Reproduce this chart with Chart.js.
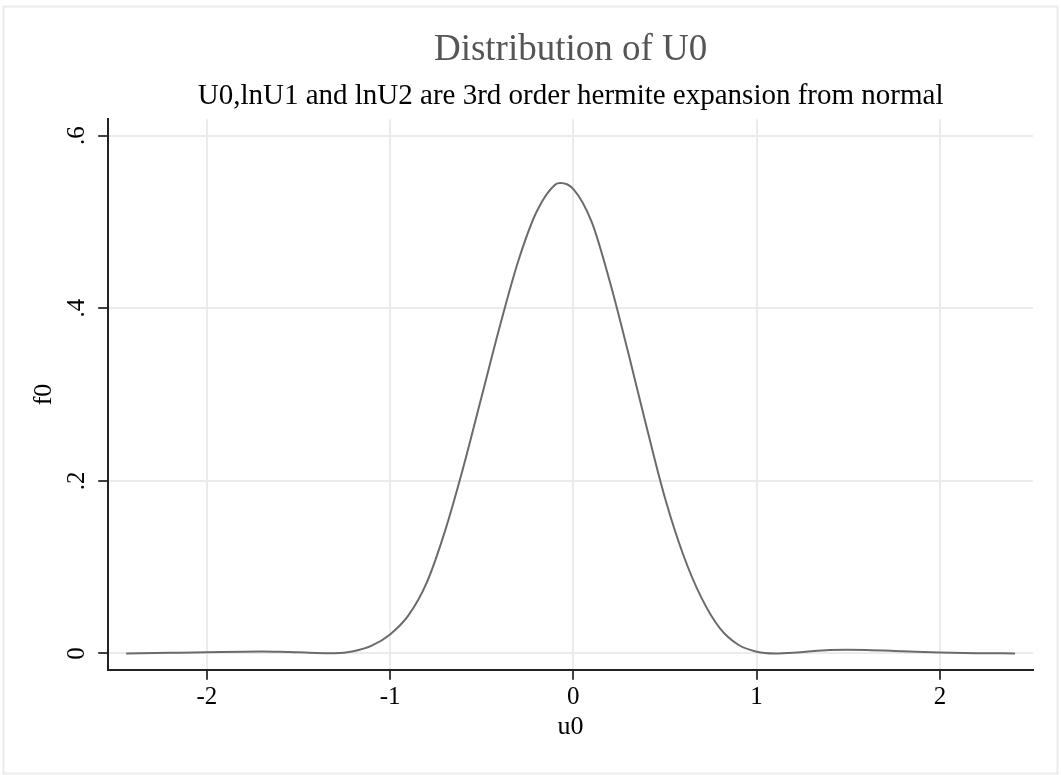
<!DOCTYPE html>
<html>
<head>
<meta charset="utf-8">
<script src="https://cdn.jsdelivr.net/npm/chart.js@4"></script>
<style>
  html, body { margin: 0; padding: 0; background: #fff; }
  #wrap { width: 1061px; height: 775px; }
</style>
</head>
<body>
<div id="wrap"><canvas id="c"></canvas></div>
<script>
// values
const u0 = [-2.44, -2.2, -2.0, -1.8, -1.7, -1.6, -1.5, -1.4, -1.3, -1.2, -1.1, -1.0, -0.9, -0.8, -0.7,
  -0.6, -0.5, -0.4, -0.3, -0.2, -0.1, -0.07, 0.0, 0.1, 0.2, 0.3, 0.4, 0.5, 0.6, 0.7, 0.8, 0.9, 1.0,
  1.1, 1.2, 1.3, 1.4, 1.49, 1.6, 1.8, 2.0, 2.2, 2.41];
const f0 = [0.0, 0.0007, 0.0013, 0.0020, 0.0021, 0.0018, 0.0012, 0.0005, 0.0003, 0.0025, 0.009, 0.022, 0.044, 0.082, 0.142,
  0.216, 0.298, 0.380, 0.455, 0.512, 0.543, 0.545, 0.538, 0.500, 0.430, 0.348, 0.262, 0.180, 0.114, 0.064, 0.029, 0.010, 0.002,
  0.0, 0.0008, 0.0025, 0.0038, 0.0043, 0.0040, 0.0025, 0.0010, 0.0003, 0.0];
const xTicks = [-2, -1, 0, 1, 2];
const yTicks = [0, 0.2, 0.4, 0.6];
const yTickLabels = ['0', '.2', '.4', '.6'];

const serif = '"Liberation Serif", "Times New Roman", serif';

const frame = {
  id: 'frame',
  beforeDraw(chart) {
    const ctx = chart.ctx;
    ctx.save();
    ctx.fillStyle = '#fff';
    ctx.fillRect(0, 0, chart.width, chart.height);
    ctx.strokeStyle = '#ececec';
    ctx.lineWidth = 2;
    ctx.strokeRect(3.5, 6.5, 1054, 767);
    ctx.restore();
  },
  afterDraw(chart) {
    // y tick labels turned like the reference
    const ctx = chart.ctx, y = chart.scales.y;
    ctx.save();
    ctx.fillStyle = '#000';
    ctx.font = '25px ' + serif;
    ctx.textAlign = 'center';
    ctx.textBaseline = 'middle';
    yTicks.forEach((v, i) => {
      ctx.save();
      ctx.translate(77, y.getPixelForValue(v));
      ctx.rotate(-Math.PI / 2);
      ctx.fillText(yTickLabels[i], 0, 0);
      ctx.restore();
    });
    ctx.restore();
  }
};

new Chart(document.getElementById('c'), {
  type: 'line',
  data: {
    datasets: [{
      data: u0.map((u, i) => ({ x: u, y: f0[i] })),
      borderColor: '#6b6b6b',
      borderWidth: 2,
      pointRadius: 0,
      cubicInterpolationMode: 'monotone',
      fill: false
    }]
  },
  options: {
    responsive: true,
    maintainAspectRatio: false,
    animation: false,
    layout: { padding: { left: 20, right: 28, top: 10, bottom: 1 } },
    plugins: {
      legend: { display: false },
      tooltip: { enabled: false },
      title: {
        display: true,
        text: 'Distribution of U0',
        fullSize: false,
        color: '#555',
        font: { family: serif, size: 37, weight: 'normal' },
        padding: { top: 18, bottom: 0 }
      },
      subtitle: {
        display: true,
        text: 'U0,lnU1 and lnU2 are 3rd order hermite expansion from normal',
        fullSize: false,
        color: '#000',
        font: { family: serif, size: 29, weight: 'normal' },
        padding: { top: 7, bottom: 5 }
      }
    },
    scales: {
      x: {
        type: 'linear',
        min: -2.538,
        max: 2.508,
        afterBuildTicks: s => { s.ticks = xTicks.map(v => ({ value: v })); },
        ticks: {
          color: '#000',
          font: { family: serif, size: 25 },
          padding: 3,
          maxRotation: 0,
          callback: v => String(v)
        },
        grid: { color: '#ebebeb', lineWidth: 2, tickColor: '#000', tickLength: 10, tickWidth: 1.5 },
        border: { color: '#222', width: 2 },
        title: {
          display: true,
          text: 'u0',
          color: '#000',
          font: { family: serif, size: 26 },
          padding: { top: -4, bottom: 31 }
        }
      },
      y: {
        type: 'linear',
        min: -0.019,
        max: 0.619,
        afterBuildTicks: s => { s.ticks = yTicks.map(v => ({ value: v })); },
        ticks: { display: false },
        grid: { color: '#ebebeb', lineWidth: 2, tickColor: '#000', tickLength: 10, tickWidth: 1.5 },
        border: { color: '#222', width: 2 },
        title: {
          display: true,
          text: 'f0',
          color: '#000',
          font: { family: serif, size: 26 },
          padding: { top: 9, bottom: 38 }
        }
      }
    }
  },
  plugins: [frame]
});
</script>
</body>
</html>
